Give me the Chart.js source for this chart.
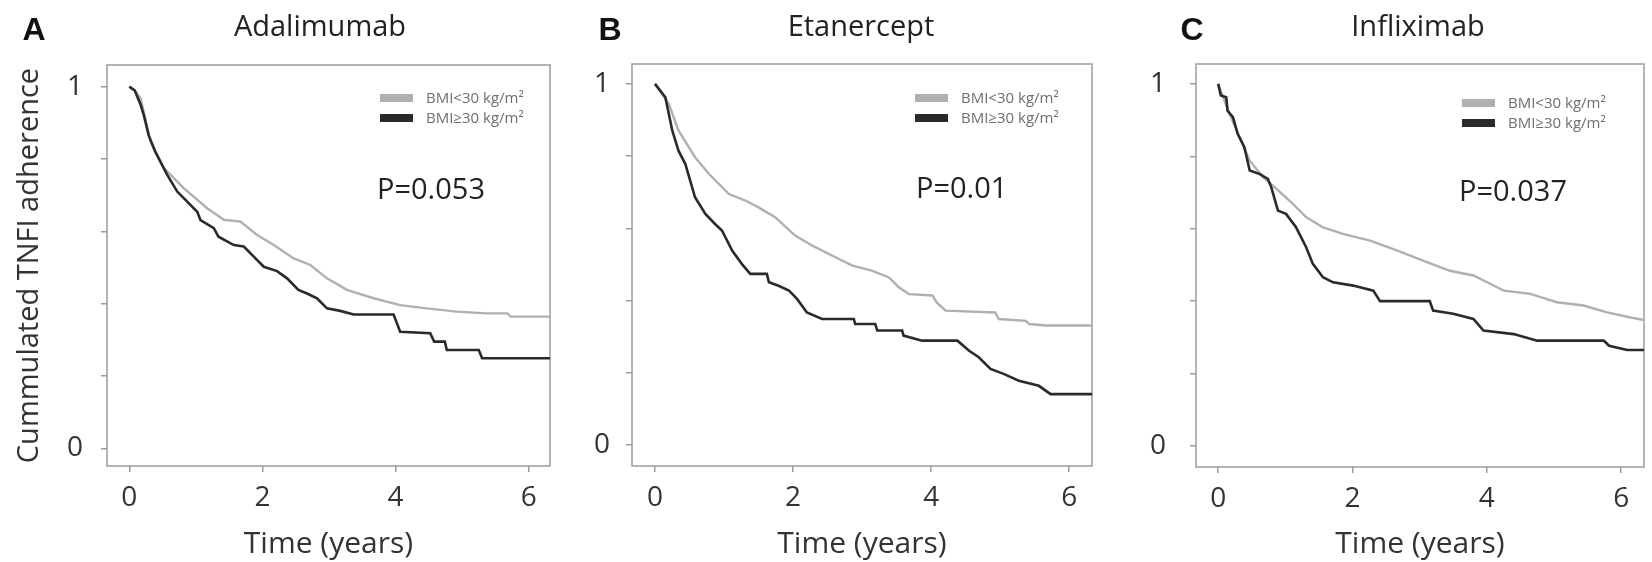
<!DOCTYPE html>
<html>
<head>
<meta charset="utf-8">
<script src="https://cdn.jsdelivr.net/npm/chart.js@4.4.1/dist/chart.umd.min.js"></script>
<style>
  body { margin: 0; background: #fff; }
  #wrap { position: relative; width: 1652px; height: 562px; overflow: hidden; }
  canvas { position: absolute; top: 0; }
</style>
</head>
<body>
<div id="wrap">
  <canvas id="chartA" width="566" height="562" style="left:0"></canvas>
  <canvas id="chartB" width="544" height="562" style="left:566px"></canvas>
  <canvas id="chartC" width="542" height="562" style="left:1110px"></canvas>
</div>
<script>
const panelLetters = ['A', 'B', 'C'];
const drugNames = ['Adalimumab', 'Etanercept', 'Infliximab'];
const pValues = ['P=0.053', 'P=0.01', 'P=0.037'];
const seriesLabels = ['BMI<30 kg/m²', 'BMI≥30 kg/m²'];
const xTickLabels = [0, 2, 4, 6];
const yTickLabels = [0, 1];
const xAxisTitle = 'Time (years)';
const yAxisTitle = 'Cummulated TNFI adherence';

// KM curves, [years, adherence]
const adaLow = [[0, 1], [0.08, 0.99], [0.17, 0.968], [0.32, 0.848], [0.52, 0.775], [0.82, 0.719], [1.17, 0.664],
  [1.42, 0.632], [1.67, 0.627], [1.92, 0.59], [2.17, 0.562], [2.47, 0.525], [2.72, 0.507], [2.97, 0.47],
  [3.27, 0.438], [3.67, 0.415], [4.07, 0.396], [4.47, 0.387], [4.92, 0.378], [5.37, 0.373], [5.68, 0.373],
  [5.73, 0.364], [6.4, 0.364]];
const adaHigh = [[0, 1], [0.08, 0.99], [0.17, 0.95], [0.22, 0.92], [0.29, 0.866], [0.39, 0.82], [0.57, 0.756],
  [0.72, 0.71], [0.87, 0.682], [1.02, 0.654], [1.07, 0.631], [1.27, 0.609], [1.34, 0.585], [1.57, 0.562],
  [1.72, 0.558], [1.87, 0.53], [2.02, 0.502], [2.22, 0.49], [2.37, 0.47], [2.54, 0.438], [2.67, 0.428],
  [2.82, 0.415], [2.97, 0.387], [3.17, 0.38], [3.37, 0.37], [3.97, 0.37], [4.07, 0.322], [4.52, 0.318],
  [4.58, 0.295], [4.74, 0.295], [4.77, 0.272], [5.25, 0.272], [5.3, 0.249], [6.4, 0.249]];

const etaLow = [[0, 1], [0.2, 0.945], [0.34, 0.871], [0.58, 0.797], [0.78, 0.751], [1.07, 0.695], [1.31, 0.677],
  [1.5, 0.658], [1.74, 0.631], [2.03, 0.58], [2.28, 0.552], [2.57, 0.524], [2.86, 0.497], [3.14, 0.483],
  [3.39, 0.464], [3.53, 0.437], [3.68, 0.418], [4.02, 0.414], [4.08, 0.395], [4.21, 0.372], [4.93, 0.367],
  [4.98, 0.349], [5.37, 0.344], [5.42, 0.335], [5.66, 0.331], [6.4, 0.331]];
const etaHigh = [[0, 1], [0.15, 0.963], [0.25, 0.871], [0.34, 0.815], [0.44, 0.778], [0.58, 0.686], [0.73, 0.64],
  [0.87, 0.612], [0.97, 0.594], [1.12, 0.538], [1.26, 0.501], [1.38, 0.474], [1.62, 0.474], [1.65, 0.451],
  [1.79, 0.441], [1.94, 0.428], [2.06, 0.404], [2.2, 0.367], [2.42, 0.349], [2.88, 0.349], [2.9, 0.335],
  [3.19, 0.335], [3.22, 0.317], [3.58, 0.317], [3.6, 0.303], [3.87, 0.289], [4.38, 0.289], [4.55, 0.261],
  [4.69, 0.243], [4.86, 0.211], [5.05, 0.197], [5.27, 0.178], [5.56, 0.164], [5.73, 0.141], [6.4, 0.141]];

const infLow = [[0, 1], [0.17, 0.917], [0.32, 0.853], [0.47, 0.788], [0.67, 0.742], [0.87, 0.71], [1.06, 0.678],
  [1.31, 0.632], [1.56, 0.604], [1.86, 0.586], [2.26, 0.567], [2.66, 0.54], [3.05, 0.512], [3.45, 0.484],
  [3.8, 0.471], [4.05, 0.448], [4.25, 0.429], [4.65, 0.42], [5.04, 0.397], [5.44, 0.388], [5.79, 0.369],
  [6.14, 0.355], [6.4, 0.346]];
const infHigh = [[0, 1], [0.04, 0.968], [0.12, 0.963], [0.14, 0.926], [0.22, 0.908], [0.29, 0.862], [0.39, 0.825],
  [0.47, 0.761], [0.62, 0.751], [0.74, 0.738], [0.79, 0.715], [0.89, 0.65], [1.01, 0.641], [1.16, 0.604],
  [1.31, 0.549], [1.41, 0.503], [1.56, 0.466], [1.71, 0.452], [2.01, 0.443], [2.31, 0.429], [2.41, 0.4],
  [3.15, 0.4], [3.2, 0.374], [3.5, 0.365], [3.8, 0.351], [3.95, 0.319], [4.4, 0.309], [4.75, 0.291],
  [5.74, 0.291], [5.82, 0.277], [6.09, 0.265], [6.4, 0.265]];

// per-panel layout (pixel offsets are relative to the chart area)
const panels = [
  { id: 'chartA', low: adaLow, high: adaHigh, yWidth: 107, xHeight: 96, top: 65, right: 16,
    xMin: -0.335, xMax: 6.32, yMin: -0.049, yMax: 1.06, yTitle: true, yTickPad: 18,
    letterX: -73, titleX: 213, legendX: 273, legendY: 33, pX: 270, pY: 126 },
  { id: 'chartB', low: etaLow, high: etaHigh, yWidth: 66, xHeight: 96, top: 64, right: 18,
    xMin: -0.333, xMax: 6.33, yMin: -0.058, yMax: 1.055, yTitle: false, yTickPad: 16,
    letterX: -22, titleX: 229, legendX: 283, legendY: 34, pX: 284, pY: 126 },
  { id: 'chartC', low: infLow, high: infHigh, yWidth: 86, xHeight: 95, top: 64, right: 8,
    xMin: -0.33, xMax: 6.34, yMin: -0.058, yMax: 1.055, yTitle: false, yTickPad: 24,
    letterX: -4, titleX: 222, legendX: 266, legendY: 39, pX: 263, pY: 129 }
];

const FONT = "'Open Sans', sans-serif";

const panelText = {
  id: 'panelText',
  beforeDatasetsDraw(chart, args, opts) {
    const { ctx, chartArea: a } = chart;
    ctx.save();
    ctx.strokeStyle = '#9c9c9c';
    ctx.lineWidth = 1.5;
    ctx.strokeRect(a.left, a.top, a.right - a.left, a.bottom - a.top);
    ctx.restore();
  },
  afterDraw(chart, args, opts) {
    const { ctx, chartArea: a } = chart;
    const p = opts.panel;
    ctx.save();
    // panel letter
    ctx.fillStyle = '#111';
    ctx.font = "bold 32px 'Liberation Sans', Arial, sans-serif";
    ctx.textAlign = 'center';
    ctx.textBaseline = 'alphabetic';
    ctx.fillText(opts.letter, a.left + p.letterX, 40);
    // drug name
    ctx.fillStyle = '#222';
    ctx.font = '29px ' + FONT;
    ctx.fillText(opts.title, a.left + p.titleX, 36);

    // legend
    const order = [1, 0]; // grey row first, black second
    order.forEach((di, row) => {
      const ds = chart.data.datasets[di];
      const y = a.top + p.legendY + row * 20;
      ctx.fillStyle = ds.borderColor;
      ctx.fillRect(a.left + p.legendX, y - 4, 33, 8);
      ctx.fillStyle = '#6e6e6e';
      ctx.font = '15px ' + FONT;
      ctx.textAlign = 'left';
      ctx.textBaseline = 'middle';
      ctx.fillText(ds.label, a.left + p.legendX + 46, y + 1);
    });

    // p value
    ctx.fillStyle = '#222';
    ctx.font = '29px ' + FONT;
    ctx.textAlign = 'left';
    ctx.textBaseline = 'middle';
    ctx.fillText(opts.pText, a.left + p.pX, a.top + p.pY);
    ctx.restore();
  }
};

const toPoints = arr => arr.map(([x, y]) => ({ x, y }));

panels.forEach((p, i) => {
  const ctx = document.getElementById(p.id).getContext('2d');
  new Chart(ctx, {
    type: 'line',
    data: {
      datasets: [
        { label: seriesLabels[1], data: toPoints(p.high), borderColor: '#2a2a2a', borderWidth: 2.6, order: 0 },
        { label: seriesLabels[0], data: toPoints(p.low), borderColor: '#b0b0b0', borderWidth: 2.4, order: 1 }
      ]
    },
    options: {
      responsive: false,
      animation: false,
      layout: { padding: { top: p.top, right: p.right, left: 0, bottom: 0 } },
      elements: { point: { radius: 0 }, line: { tension: 0 } },
      plugins: {
        legend: { display: false },
        tooltip: { enabled: false },
        panelText: { panel: p, letter: panelLetters[i], title: drugNames[i], pText: pValues[i] }
      },
      scales: {
        x: {
          type: 'linear',
          min: p.xMin,
          max: p.xMax,
          afterFit: s => { s.height = p.xHeight; },
          border: { display: false },
          grid: { drawOnChartArea: false, tickLength: 6, color: '#9c9c9c', lineWidth: 1.5 },
          ticks: {
            stepSize: 2, includeBounds: false, autoSkip: false, maxRotation: 0, padding: 9,
            color: '#333', font: { family: FONT, size: 28 },
            callback: v => xTickLabels.includes(v) ? String(v) : ''
          },
          title: { display: true, text: xAxisTitle, color: '#333', font: { family: FONT, size: 30 }, padding: { bottom: 0 } }
        },
        y: {
          type: 'linear',
          min: p.yMin,
          max: p.yMax,
          afterFit: s => { s.width = p.yWidth; },
          border: { display: false },
          grid: { drawOnChartArea: false, tickLength: 6, color: '#9c9c9c', lineWidth: 1.5 },
          ticks: {
            stepSize: 0.2, includeBounds: false, autoSkip: false, padding: p.yTickPad,
            color: '#333', font: { family: FONT, size: 28 },
            callback: v => yTickLabels.includes(v) ? String(v) : ''
          },
          title: { display: p.yTitle, text: yAxisTitle, color: '#333', font: { family: FONT, size: 29 }, padding: { top: 12 } }
        }
      }
    },
    plugins: [panelText]
  });
});
</script>
</body>
</html>
